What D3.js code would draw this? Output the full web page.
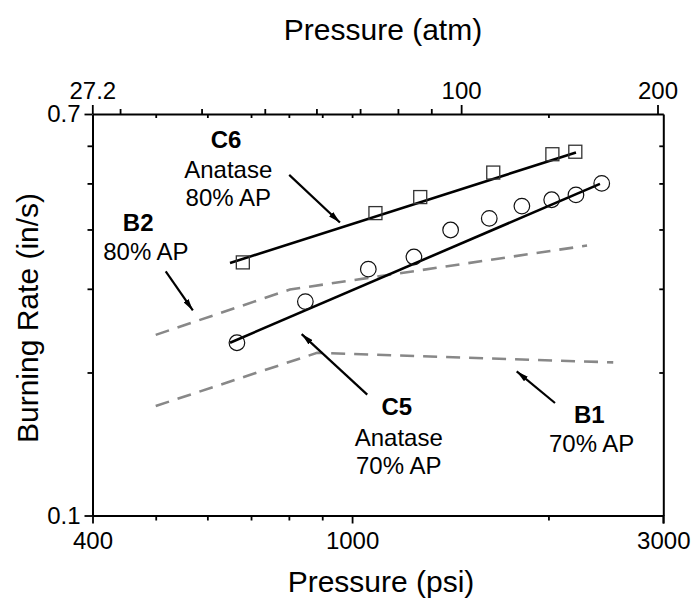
<!DOCTYPE html>
<html>
<head>
<meta charset="utf-8">
<script src="https://cdn.jsdelivr.net/npm/d3@7"></script>
<style>
  html, body { margin: 0; padding: 0; background: #ffffff; }
  svg { display: block; }
  text { font-family: "Liberation Sans", Arial, Helvetica, sans-serif; fill: #000; }
</style>
</head>
<body>
<svg id="chart" width="693" height="606"></svg>
<script>
// ---------------- data ----------------
const psiTicksMajor = [400, 1000, 3000];
const psiTicksMinor = [500, 600, 700, 800, 900, 2000];
const atmTicksMajor = [27.2, 100, 200];
const atmTicksMinor = [30, 40, 50, 60, 70, 80, 90];
const rateTicksMajor = [0.1, 0.7];
const rateTicksMinor = [0.2, 0.3, 0.4, 0.5, 0.6];

// C6: Anatase, 80% AP (squares)
const c6Pressure = [680, 1086, 1272, 1646, 2028, 2199];
const c6Rate = [0.341, 0.433, 0.468, 0.527, 0.576, 0.583];
const c6FitPressure = [650, 2204];
const c6FitRate = [0.340, 0.581];

// C5: Anatase, 70% AP (circles)
const c5Pressure = [666, 848, 1059, 1244, 1416, 1623, 1821, 2023, 2204, 2414];
const c5Rate = [0.231, 0.282, 0.330, 0.350, 0.399, 0.422, 0.448, 0.462, 0.473, 0.500];
const c5FitPressure = [650, 2399];
const c5FitRate = [0.231, 0.499];

// Baselines (dashed)
const b2Pressure = [500, 803, 2292];
const b2Rate = [0.240, 0.299, 0.370];
const b1Pressure = [500, 884, 2514];
const b1Rate = [0.170, 0.220, 0.210];

// annotation text lines: text, pressure, rate, bold
const labelText = ["C6", "Anatase", "80% AP", "B2", "80% AP", "C5", "Anatase", "70% AP", "B1", "70% AP"];
const labelPressure = [641, 646, 646, 470, 483, 1171, 1179, 1179, 2311, 2330];
const labelRate = [0.620, 0.5364, 0.4662, 0.4137, 0.3595, 0.1699, 0.1462, 0.1274, 0.1630, 0.1417];
const labelBold = [true, false, false, true, false, true, false, false, true, false];

// arrows: from (p0,r0) to (p1,r1)
const arrowP0 = [801, 518, 1055, 2047];
const arrowR0 = [0.5211, 0.3263, 0.1796, 0.1725];
const arrowP1 = [958, 570, 837, 1788];
const arrowR1 = [0.4137, 0.2701, 0.2409, 0.2011];

// ---------------- chart ----------------
const svg = d3.select("#chart");
const X0 = 92.5, X1 = 663.3, Y0 = 515.5, Y1 = 114;
const PSI_PER_ATM = 14.696;

const x = d3.scaleLog().domain([400, 3000]).range([X0, X1]);
const xAtm = d3.scaleLog().domain([400 / PSI_PER_ATM, 3000 / PSI_PER_ATM]).range([X0, X1]);
const y = d3.scaleLog().domain([0.1, 0.7]).range([Y0, Y1]);

const defs = svg.append("defs");
defs.append("marker")
  .attr("id", "arrow")
  .attr("viewBox", "0 0 12 6")
  .attr("refX", 12).attr("refY", 3)
  .attr("markerWidth", 12).attr("markerHeight", 6)
  .attr("markerUnits", "userSpaceOnUse")
  .attr("orient", "auto")
  .append("path").attr("d", "M0,0 L12,3 L0,6 Z").attr("fill", "#000");

function styleAxis(g, showDomain) {
  g.selectAll(".tick line").attr("stroke", "#000").attr("stroke-width", 1.8);
  g.selectAll(".domain").attr("stroke", showDomain ? "#000" : "none").attr("stroke-width", 2);
  g.selectAll(".tick text")
    .attr("font-family", '"Liberation Sans", Arial, sans-serif')
    .attr("font-size", 24).attr("fill", "#000");
}

// bottom axis (psi)
const gB = svg.append("g").attr("transform", `translate(0,${Y0})`)
  .call(d3.axisBottom(x).tickValues(psiTicksMajor).tickFormat(d3.format("d")).tickSize(8).tickSizeOuter(0).tickPadding(8));
styleAxis(gB, true);
const gBm = svg.append("g").attr("transform", `translate(0,${Y0})`)
  .call(d3.axisBottom(x).tickValues(psiTicksMinor).tickFormat("").tickSize(5).tickSizeOuter(0));
styleAxis(gBm, false);

// top axis: inward mirror of psi ticks
const gTin = svg.append("g").attr("transform", `translate(0,${Y1})`)
  .call(d3.axisBottom(x).tickValues(psiTicksMinor.concat([1000])).tickFormat("").tickSize(4).tickSizeOuter(0));
styleAxis(gTin, false);

// top axis (atm), outward
const gT = svg.append("g").attr("transform", `translate(0,${Y1})`)
  .call(d3.axisTop(xAtm).tickValues(atmTicksMajor).tickFormat(d => String(d)).tickSize(9).tickSizeOuter(0).tickPadding(6));
styleAxis(gT, true);
const gTm = svg.append("g").attr("transform", `translate(0,${Y1})`)
  .call(d3.axisTop(xAtm).tickValues(atmTicksMinor).tickFormat("").tickSize(5).tickSizeOuter(0));
styleAxis(gTm, false);

// left axis
const gL = svg.append("g").attr("transform", `translate(${X0},0)`)
  .call(d3.axisLeft(y).tickValues(rateTicksMajor).tickFormat(d3.format(".1f")).tickSize(8).tickSizeOuter(0).tickPadding(4));
styleAxis(gL, true);
const gLm = svg.append("g").attr("transform", `translate(${X0},0)`)
  .call(d3.axisLeft(y).tickValues(rateTicksMinor).tickFormat("").tickSize(5).tickSizeOuter(0));
styleAxis(gLm, false);

// right axis (inward minor ticks)
const gR = svg.append("g").attr("transform", `translate(${X1},0)`)
  .call(d3.axisLeft(y).tickValues(rateTicksMinor).tickFormat("").tickSize(4).tickSizeOuter(0));
styleAxis(gR, true);
// extend right spine for the 3000 major tick
svg.append("line").attr("x1", X1).attr("x2", X1).attr("y1", Y0).attr("y2", Y0 + 8)
  .attr("stroke", "#000").attr("stroke-width", 1.8);

// axis titles
svg.append("text").attr("x", 383).attr("y", 40).attr("text-anchor", "middle")
  .attr("font-size", 30).text("Pressure (atm)");
svg.append("text").attr("x", 381).attr("y", 592).attr("text-anchor", "middle")
  .attr("font-size", 30).text("Pressure (psi)");
svg.append("text").attr("transform", "translate(38,318) rotate(-90)").attr("text-anchor", "middle")
  .attr("font-size", 30).text("Burning Rate (in/s)");

const line = d3.line().x(d => x(d[0])).y(d => y(d[1]));

// dashed baselines
[[b2Pressure, b2Rate], [b1Pressure, b1Rate]].forEach(([P, R]) => {
  svg.append("path")
    .datum(P.map((p, i) => [p, R[i]]))
    .attr("d", line)
    .attr("fill", "none").attr("stroke", "#888888").attr("stroke-width", 2.6)
    .attr("stroke-dasharray", "14,9");
});

// fit lines
[[c6FitPressure, c6FitRate], [c5FitPressure, c5FitRate]].forEach(([P, R]) => {
  svg.append("path")
    .datum(P.map((p, i) => [p, R[i]]))
    .attr("d", line)
    .attr("fill", "none").attr("stroke", "#000").attr("stroke-width", 2.6);
});

// squares (C6)
const sq = 13;
svg.append("g").selectAll("rect")
  .data(c6Pressure.map((p, i) => [p, c6Rate[i]]))
  .join("rect")
  .attr("x", d => x(d[0]) - sq / 2).attr("y", d => y(d[1]) - sq / 2)
  .attr("width", sq).attr("height", sq)
  .attr("fill", "none").attr("stroke", "#333").attr("stroke-width", 1.3);

// circles (C5)
svg.append("g").selectAll("circle")
  .data(c5Pressure.map((p, i) => [p, c5Rate[i]]))
  .join("circle")
  .attr("cx", d => x(d[0])).attr("cy", d => y(d[1])).attr("r", 7.8)
  .attr("fill", "none").attr("stroke", "#111").attr("stroke-width", 1.2);

// arrows
svg.append("g").selectAll("line")
  .data(arrowP0.map((p, i) => i))
  .join("line")
  .attr("x1", i => x(arrowP0[i])).attr("y1", i => y(arrowR0[i]))
  .attr("x2", i => x(arrowP1[i])).attr("y2", i => y(arrowR1[i]))
  .attr("stroke", "#000").attr("stroke-width", 2.2)
  .attr("marker-end", "url(#arrow)");

// annotation labels (centered on given point; baseline shifted by half cap height)
svg.append("g").selectAll("text")
  .data(labelText.map((t, i) => i))
  .join("text")
  .attr("x", i => x(labelPressure[i]))
  .attr("y", i => y(labelRate[i]) + 8.6)
  .attr("text-anchor", "middle")
  .attr("font-size", 24)
  .attr("font-weight", i => labelBold[i] ? "bold" : "normal")
  .text(i => labelText[i]);
</script>
</body>
</html>
